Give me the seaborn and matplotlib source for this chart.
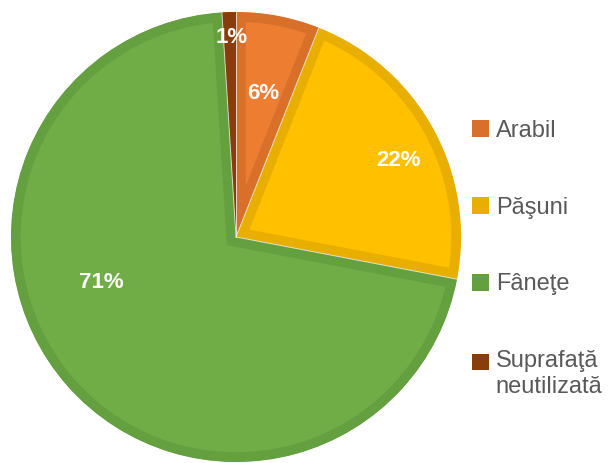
import numpy as np
import seaborn as sns
import matplotlib.pyplot as plt
from matplotlib.patches import Patch, Rectangle
from matplotlib.legend_handler import HandlerPatch

categorii = ['Arabil', 'Păşuni', 'Fâneţe', 'Suprafaţă\nneutilizată']
procente = [6, 22, 71, 1]
culori = ['#ED7D31', '#FFC000', '#70AD47', '#9E480E']
margini = ['#D8702A', '#E8AE00', '#65A040', '#883D0B']

sns.set_theme(style='white')
plt.rcParams['font.family'] = ['Liberation Sans Narrow', 'Liberation Sans', 'DejaVu Sans']

fig = plt.figure(figsize=(6.16, 4.63), dpi=100)
W, H = 616, 463
cx, cy, r = 236, 237, 225
ax = fig.add_axes([(cx - r) / W, (H - cy - r) / H, 2 * r / W, 2 * r / H])

wedges, _ = ax.pie(procente, colors=culori, startangle=90, counterclock=False,
                   radius=1, wedgeprops=dict(linewidth=0))
# darker inner border, clipped to each slice
for w, m in zip(wedges, margini):
    w.set_edgecolor(m)
    w.set_linewidth(14)
    w.set_clip_path(w)
    w.set_clip_on(True)

# thin light separators between slices
for w in wedges:
    a = np.deg2rad(w.theta1)
    ax.plot([0, np.cos(a)], [0, np.sin(a)], color='#f0f0e8', lw=0.7, alpha=0.8)

# label placement (distance from centre, angle nudge in degrees)
dist = [0.65, 0.80, 0.63, 0.885]
nudge = [0, -3.5, -22.8, -0.6]
for w, p, d, n in zip(wedges, procente, dist, nudge):
    ang = np.deg2rad((w.theta1 + w.theta2) / 2 + n)
    ax.text(d * np.cos(ang), d * np.sin(ang), f'{p}%', ha='center', va='center',
            color='white', fontsize=16, fontweight='bold')
ax.set_xlim(-1, 1)
ax.set_ylim(-1, 1)
ax.set_aspect('equal')
ax.axis('off')


def patrat_sus(legend, orig_handle, xdescent, ydescent, width, height, fontsize):
    # marker aligned with the first line of a two-line label
    return Rectangle((-xdescent, -ydescent + 8.7), width, height)


handles = [Patch(facecolor=c, edgecolor='none') for c in margini]
fig.legend(handles, categorii, loc='upper left', bbox_to_anchor=(460 / W, 1 - 108 / H),
           frameon=False, fontsize=17, labelcolor='#595959', handlelength=0.72,
           handleheight=0.72, handletextpad=0.3, labelspacing=2.32, borderpad=0,
           handler_map={handles[3]: HandlerPatch(patch_func=patrat_sus)})

fig.savefig('out.png', dpi=100)
